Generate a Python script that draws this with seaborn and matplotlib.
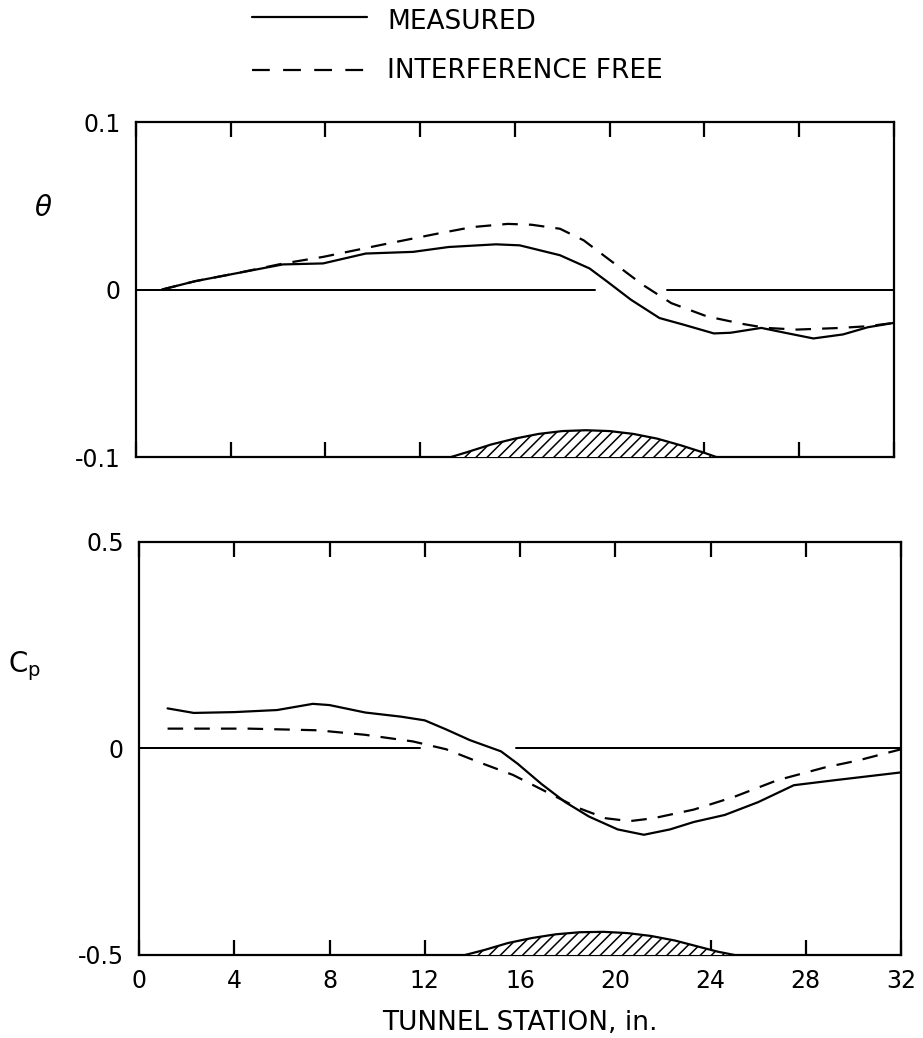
import matplotlib
matplotlib.use("Agg")
import matplotlib.pyplot as plt
from matplotlib.lines import Line2D
import pandas as pd
import seaborn as sns

sns.set_style("ticks", {"axes.edgecolor": "black", "text.color": "black",
                        "xtick.color": "black", "ytick.color": "black"})
plt.rcParams["font.family"] = ["DejaVu Sans"]
plt.rcParams["hatch.linewidth"] = 1.1
plt.rcParams["mathtext.fontset"] = "dejavusans"
plt.rcParams["text.color"] = "black"

station_ticks = [0, 4, 8, 12, 16, 20, 24, 28, 32]

# Flow angle, theta
theta_meas_x = [1.1, 2.5, 4.2, 6.2, 7.9, 9.7, 11.7, 13.2, 15.2, 16.2, 17.9,
                19.15, 19.9, 20.9, 22.1, 23.1, 24.4, 25.1, 26.4, 27.4, 28.6,
                29.85, 30.9, 32.0]
theta_meas_y = [0.0, 0.005, 0.0096, 0.015, 0.0156, 0.0215, 0.0225, 0.0254,
                0.027, 0.0264, 0.0205, 0.0126, 0.0047, -0.0061, -0.017,
                -0.0209, -0.0262, -0.0258, -0.0229, -0.0258, -0.0292,
                -0.0268, -0.0225, -0.0199]
theta_free_x = [1.1, 2.5, 4.2, 6.2, 7.9, 10.4, 12.7, 14.2, 15.7, 16.7, 17.9,
                18.9, 20.1, 21.4, 22.6, 24.1, 25.6, 26.6, 27.9, 29.6, 30.9,
                32.0]
theta_free_y = [0.0, 0.005, 0.0096, 0.0155, 0.0195, 0.0268, 0.0333, 0.0373,
                0.0392, 0.0387, 0.0363, 0.0294, 0.0166, 0.0028, -0.0081,
                -0.016, -0.0205, -0.0229, -0.0239, -0.023, -0.0219, -0.0199]

# Pressure coefficient, Cp
cp_meas_x = [1.2, 2.3, 4.0, 5.8, 7.3, 8.0, 9.5, 11.0, 12.0, 12.9, 13.9, 15.2,
             15.9, 16.9, 17.9, 18.9, 20.1, 21.2, 22.3, 23.3, 24.6, 26.0,
             27.5, 29.2, 32.0]
cp_meas_y = [0.097, 0.086, 0.088, 0.093, 0.108, 0.105, 0.087, 0.077, 0.068,
             0.046, 0.020, -0.007, -0.037, -0.086, -0.130, -0.165, -0.196,
             -0.209, -0.196, -0.178, -0.161, -0.130, -0.089, -0.077, -0.058]
cp_free_x = [1.2, 4.6, 7.5, 9.5, 11.5, 12.9, 14.4, 15.7, 16.9, 18.4, 19.6,
             20.6, 21.6, 23.3, 25.0, 26.8, 28.8, 30.2, 32.0]
cp_free_y = [0.048, 0.048, 0.044, 0.033, 0.017, -0.002, -0.036, -0.064,
             -0.099, -0.143, -0.169, -0.176, -0.169, -0.148, -0.117, -0.077,
             -0.046, -0.029, -0.002]

# Model contour drawn on each panel's floor (height above the axis bottom)
body_theta_x = [13.3, 14.0, 15.0, 16.0, 17.0, 18.0, 19.0, 20.0, 21.0, 22.0,
                23.0, 24.0, 24.5]
body_theta_h = [0.0, 0.003, 0.0075, 0.011, 0.0138, 0.0155, 0.016, 0.0155,
                0.0138, 0.011, 0.007, 0.0025, 0.0]
body_cp_x = [13.7, 14.5, 15.5, 16.5, 17.5, 18.5, 19.5, 20.5, 21.5, 22.5,
             23.5, 24.3, 25.0]
body_cp_h = [0.0, 0.012, 0.029, 0.041, 0.050, 0.055, 0.056, 0.053, 0.046,
             0.035, 0.020, 0.008, 0.0]

# Zero reference segments (broken where the curves cross)
theta_zero_segments = [(0, 19.4), (22.4, 32)]
cp_zero_segments = [(0, 11.8), (15.85, 32)]

LW = 1.6
DASH = (0, (7, 5))

fig = plt.figure(figsize=(9.23, 10.38), dpi=100)
ax1 = fig.add_axes([0.1473, 0.5597, 0.8212, 0.3227])
ax2 = fig.add_axes([0.1506, 0.0800, 0.8256, 0.3979])


def draw_panel(ax, mx, my, fx, fy, bx, bh, zero_segs, ylim, yticks, ylabels):
    meas = pd.DataFrame({"x": mx, "y": my})
    free = pd.DataFrame({"x": fx, "y": fy})
    sns.lineplot(data=meas, x="x", y="y", ax=ax, color="black", lw=LW,
                 estimator=None, sort=False)
    sns.lineplot(data=free, x="x", y="y", ax=ax, color="black", lw=LW,
                 estimator=None, sort=False, linestyle=DASH)
    for a, b in zero_segs:
        ax.plot([a, b], [0, 0], color="black", lw=LW * 0.9)
    base = ylim[0]
    top = [base + h for h in bh]
    ax.fill_between(bx, base, top, facecolor="white", edgecolor="black",
                    hatch="///", lw=0, zorder=3)
    ax.plot(bx, top, color="black", lw=LW, zorder=4)
    ax.set_xlim(0, 32)
    ax.set_ylim(*ylim)
    ax.set_xticks(station_ticks)
    ax.set_yticks(yticks)
    ax.set_yticklabels(ylabels)
    ax.set_xlabel("")
    ax.set_ylabel("")
    for s in ax.spines.values():
        s.set_linewidth(1.6)
        s.set_color("black")
        s.set_visible(True)
    ax.tick_params(axis="x", direction="in", top=True, bottom=True,
                   length=11, width=1.6, labelsize=17, pad=10,
                   color="black", labelcolor="black")
    ax.tick_params(axis="y", length=0, labelsize=17, pad=11,
                   labelcolor="black")


draw_panel(ax1, theta_meas_x, theta_meas_y, theta_free_x, theta_free_y,
           body_theta_x, body_theta_h, theta_zero_segments,
           (-0.1, 0.1), [-0.1, 0, 0.1], ["-0.1", "0", "0.1"])
ax1.tick_params(axis="x", labelbottom=False)

draw_panel(ax2, cp_meas_x, cp_meas_y, cp_free_x, cp_free_y,
           body_cp_x, body_cp_h, cp_zero_segments,
           (-0.5, 0.5), [-0.5, 0, 0.5], ["-0.5", "0", "0.5"])
ax2.set_xticklabels([str(t) for t in station_ticks])
ax2.set_xlabel("TUNNEL STATION, in.", fontsize=19, labelpad=12,
               color="black")

ax1.text(-0.122, 0.743, r"$\theta$", transform=ax1.transAxes,
         fontsize=20, ha="center", va="center", color="black")
ax2.text(-0.15, 0.70, r"$\mathregular{C_p}$", transform=ax2.transAxes,
         fontsize=20, ha="center", va="center", color="black")

# Legend at the top of the sheet
W, H = 923.0, 1038.0
fig.add_artist(Line2D([252 / W, 367 / W], [1 - 17 / H, 1 - 17 / H],
                      color="black", lw=LW))
fig.add_artist(Line2D([252 / W, 367 / W], [1 - 70 / H, 1 - 70 / H],
                      color="black", lw=LW, linestyle=(0, (8, 6))))
fig.text(387 / W, 1 - 22 / H, "MEASURED", fontsize=19, va="center",
         ha="left", color="black")
fig.text(387 / W, 1 - 71 / H, "INTERFERENCE FREE", fontsize=19,
         va="center", ha="left", color="black")

fig.savefig("out.png", dpi=100, facecolor="white")
